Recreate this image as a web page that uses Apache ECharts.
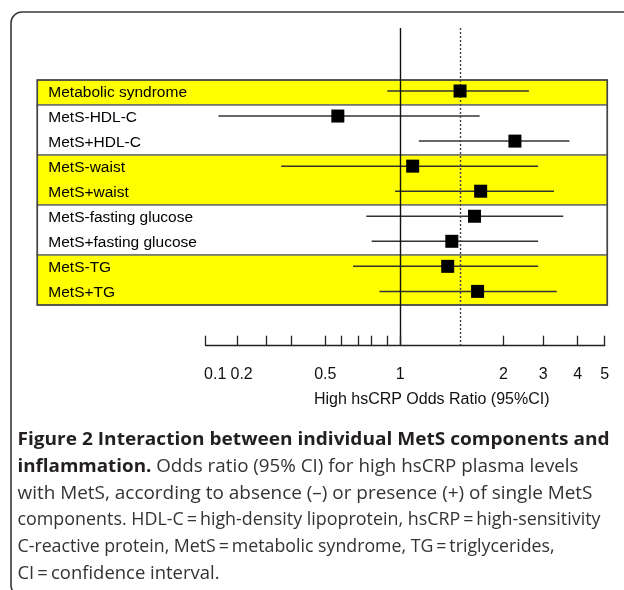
<!DOCTYPE html>
<html>
<head>
<meta charset="utf-8">
<script src="https://cdn.jsdelivr.net/npm/echarts@6/dist/echarts.min.js"></script>
<style>
  html, body { margin: 0; padding: 0; background: #fff; }
  #chart { width: 624px; height: 590px; }
</style>
</head>
<body>
<div id="chart"></div>
<script>
// ---------- data ----------
const categories = [
  'Metabolic syndrome', 'MetS-HDL-C', 'MetS+HDL-C', 'MetS-waist', 'MetS+waist',
  'MetS-fasting glucose', 'MetS+fasting glucose', 'MetS-TG', 'MetS+TG'
];
const oddsRatio = [1.58, 0.58, 2.29, 1.12, 1.78, 1.72, 1.50, 1.46, 1.75];
const ciLower   = [0.90, 0.14, 1.18, 0.36, 0.96, 0.76, 0.80, 0.67, 0.85];
const ciUpper   = [2.64, 1.77, 3.76, 2.87, 3.31, 3.58, 2.87, 2.87, 3.39];
const groups = [[0, 0], [1, 2], [3, 4], [5, 6], [7, 8]];
const nullOR = 1;
const overallOR = 1.58;

// axis scale of the figure (non-uniform): tick values and their axis units
const scaleValues = [0.1, 0.2, 0.3, 0.4, 0.5, 0.6, 0.7, 0.8, 0.9, 1, 2, 3, 4, 5];
const scaleUnits  = [-1.889, -1.579, -1.304, -1.058, -0.728, -0.576, -0.408, -0.278, -0.126, 0, 1, 1.388, 1.722, 1.984];
const tickValues = [0.1, 0.2, 0.3, 0.4, 0.5, 0.6, 0.7, 0.8, 0.9, 1, 2, 3, 4, 5];
const tickLabels = ['0.1', '0.2', '0.5', '1', '2', '3', '4', '5'];
const axisTitle = 'High hsCRP Odds Ratio (95%CI)';

const captionLines = [
  [['b', 'Figure 2 Interaction between individual MetS components and']],
  [['b', 'inflammation.'], ['r', ' Odds ratio (95% CI) for high hsCRP plasma levels']],
  [['r', 'with MetS, according to absence (\u2013) or presence (+) of single MetS']],
  [['r', 'components. HDL-C\u2009=\u2009high-density lipoprotein, hsCRP\u2009=\u2009high-sensitivity']],
  [['r', 'C-reactive protein, MetS\u2009=\u2009metabolic syndrome, TG\u2009=\u2009triglycerides,']],
  [['r', 'CI\u2009=\u2009confidence interval.']]
];
const captionWidths = [592, 561, 575, 583, 537, 202];

// ---------- scale ----------
function toUnit(v) {
  const n = scaleValues.length;
  if (v <= scaleValues[0]) return scaleUnits[0];
  if (v >= scaleValues[n - 1]) return scaleUnits[n - 1];
  for (let i = 0; i < n - 1; i++) {
    const a = scaleValues[i], b = scaleValues[i + 1];
    if (v >= a && v <= b) {
      return scaleUnits[i] + (v - a) / (b - a) * (scaleUnits[i + 1] - scaleUnits[i]);
    }
  }
  return 0;
}
function labelFor(u) {
  let best = '', bd = Infinity;
  tickLabels.forEach(function (t) {
    const d = Math.abs(toUnit(parseFloat(t)) - u);
    if (d < bd) { bd = d; best = t; }
  });
  return best;
}

// ---------- caption measurement ----------
const capFont = '"Open Sans", "Noto Sans", sans-serif';
const capSize = 18;
const mctx = document.createElement('canvas').getContext('2d');
function measure(parts) {
  let w = 0;
  parts.forEach(function (p) {
    mctx.font = (p[0] === 'b' ? 'bold ' : '') + capSize + 'px ' + capFont;
    w += mctx.measureText(p[1]).width;
  });
  return w;
}
const captionY = [439.5, 466.8, 493.5, 520.2, 546.8, 573.5];
const captionGraphics = captionLines.map(function (parts, i) {
  const w = measure(parts);
  return {
    type: 'text',
    x: 17.5,
    y: captionY[i],
    scaleX: captionWidths[i] / w,
    scaleY: 1,
    z: 10,
    style: {
      text: parts.map(function (p) { return '{' + p[0] + '|' + p[1] + '}'; }).join(''),
      x: 0, y: 0,
      verticalAlign: 'middle',
      align: 'left',
      rich: {
        b: { fontFamily: capFont, fontSize: capSize, fontWeight: 'bold', fill: '#231f20' },
        r: { fontFamily: capFont, fontSize: capSize, fontWeight: 'normal', fill: '#333333' }
      }
    }
  };
});

// ---------- chart ----------
const chart = echarts.init(document.getElementById('chart'), null, { renderer: 'canvas' });
const labelFont = '"Liberation Sans", Arial, Helvetica, sans-serif';

const option = {
  animation: false,
  backgroundColor: '#ffffff',
  grid: [
    { left: 37.3, right: 16.7, top: 80, bottom: 285, containLabel: false },
    { left: 205.7, right: 19.3, top: 28, bottom: 244.3, containLabel: false }
  ],
  xAxis: [
    { gridIndex: 0, type: 'value', min: 0, max: 1, show: false },
    {
      gridIndex: 1, type: 'value', z: 10,
      min: toUnit(tickValues[0]), max: toUnit(tickValues[tickValues.length - 1]),
      axisLine: { show: true, onZero: false, lineStyle: { color: '#222', width: 1.3 } },
      axisTick: {
        show: true, inside: true, length: 10,
        customValues: tickValues.map(toUnit),
        lineStyle: { color: '#222', width: 1.3 }
      },
      axisLabel: {
        show: true,
        customValues: tickLabels.map(function (t) { return toUnit(parseFloat(t)); }),
        formatter: function (val) {
          const t = labelFor(val);
          if (t === '0.1') return '{a|' + t + '}';
          if (t === '0.2') return '{s|' + t + '}';
          return t;
        },
        rich: {
          a: { fontSize: 16, color: '#111', fontFamily: labelFont, padding: [0, 0, 0, 19] },
          s: { fontSize: 16, color: '#111', fontFamily: labelFont, padding: [0, 0, 0, 8] }
        },
        margin: 21,
        fontSize: 16,
        color: '#111',
        fontFamily: labelFont,
        hideOverlap: false,
        showMinLabel: true,
        showMaxLabel: true
      },
      splitLine: { show: false },
      name: axisTitle,
      nameLocation: 'middle',
      nameGap: 46,
      nameTextStyle: { fontSize: 16, color: '#111', fontFamily: labelFont, padding: [0, 0, 0, 53] }
    }
  ],
  yAxis: [
    {
      gridIndex: 0, type: 'category', data: categories, inverse: true, z: 10,
      axisLine: { show: false }, axisTick: { show: false }, splitLine: { show: false },
      axisLabel: { inside: true, margin: 11, fontSize: 15.5, color: '#000', fontFamily: labelFont }
    },
    { gridIndex: 1, type: 'value', inverse: true, min: -2.515, max: 10.168, show: false }
  ],
  graphic: [
    {
      type: 'rect', z: 0, silent: true,
      shape: { x: 11, y: 12, width: 700, height: 584, r: 11 },
      style: { fill: 'none', stroke: '#3a3a3a', lineWidth: 1.6 }
    }
  ].concat(captionGraphics),
  series: [
    {
      type: 'custom', xAxisIndex: 0, yAxisIndex: 0, z: 1, silent: true,
      data: groups.map(function (g, i) { return [g[0], g[1], i]; }),
      renderItem: function (params, api) {
        const cs = params.coordSys;
        const bandH = api.size([0, 1])[1];
        const y0 = api.coord([0, api.value(0)])[1] - bandH / 2;
        const y1 = api.coord([0, api.value(1)])[1] + bandH / 2;
        return {
          type: 'rect',
          shape: { x: cs.x, y: y0, width: cs.width, height: y1 - y0 },
          style: { fill: api.value(2) % 2 === 0 ? '#ffff00' : '#ffffff', stroke: '#707070', lineWidth: 1.3 }
        };
      }
    },
    {
      type: 'custom', xAxisIndex: 0, yAxisIndex: 0, z: 2, silent: true,
      data: [[0]],
      renderItem: function (params) {
        const cs = params.coordSys;
        return {
          type: 'rect',
          shape: { x: cs.x, y: cs.y, width: cs.width, height: cs.height },
          style: { fill: 'none', stroke: '#444', lineWidth: 1.6 }
        };
      }
    },
    {
      type: 'custom', xAxisIndex: 1, yAxisIndex: 1, z: 4, silent: true, clip: false,
      data: categories.map(function (c, i) { return [toUnit(ciLower[i]), toUnit(ciUpper[i]), i]; }),
      renderItem: function (params, api) {
        const p1 = api.coord([api.value(0), api.value(2)]);
        const p2 = api.coord([api.value(1), api.value(2)]);
        return {
          type: 'line',
          shape: { x1: p1[0], y1: p1[1], x2: p2[0], y2: p2[1] },
          style: { stroke: '#333', lineWidth: 1.5 }
        };
      }
    },
    {
      type: 'scatter', xAxisIndex: 1, yAxisIndex: 1, z: 5, silent: true,
      symbol: 'rect', symbolSize: 13,
      itemStyle: { color: '#000', opacity: 1 },
      data: categories.map(function (c, i) { return [toUnit(oddsRatio[i]), i]; }),
      markLine: {
        silent: true, symbol: 'none', animation: false,
        label: { show: false },
        data: [
          { xAxis: toUnit(nullOR), lineStyle: { color: '#111', width: 1.4, type: 'solid', opacity: 1 } },
          { xAxis: toUnit(overallOR), lineStyle: { color: '#444', width: 1.4, type: [2, 2], opacity: 1 } }
        ]
      }
    }
  ]
};
chart.setOption(option);
</script>
</body>
</html>
